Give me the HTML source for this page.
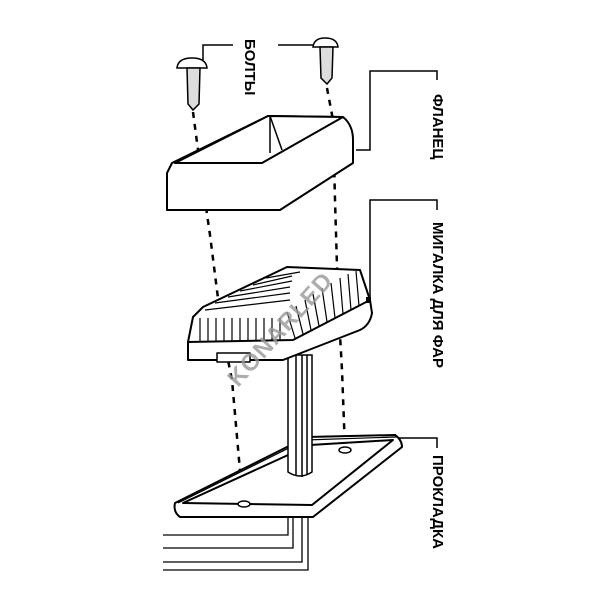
<!DOCTYPE html>
<html><head><meta charset="utf-8"><style>html,body{margin:0;padding:0;background:#fff}svg{display:block}</style></head>
<body>
<svg width="600" height="600" viewBox="0 0 600 600" xmlns="http://www.w3.org/2000/svg" font-family="Liberation Sans, DejaVu Sans, sans-serif">
<g fill="none" stroke="#000" stroke-width="1.5">
<polyline points="203,62 203,45 233,45"/>
<polyline points="278,45 313,45"/>
<polyline points="356,150 370,150 370,71 437,71 437,80"/>
<polyline points="370,300 370,200 437,200 437,210"/>
<polyline points="398,438 437,438 437,448"/>
<polyline points="193,112 200,165 210,235 222,330 232,380 243,505" stroke-dasharray="6,6" stroke-width="2.5"/>
<polyline points="327,88 333,120 335,200 338,300 342,370 345,450" stroke-dasharray="6,6" stroke-width="2.5"/>
</g>
<g stroke="#000" stroke-width="1.5">
<path d="M177,68 Q178,58 192,58 Q206,58 207,68 Z" fill="#fff"/>
<path d="M187,68 L200,68 L199,104 L193,110 L188,104 Z" fill="#ddd"/>
<path d="M313,47 Q314,38 325,38 Q337,38 338,47 Z" fill="#fff"/>
<path d="M320,47 L333,47 L332,78 L327,84 L321,78 Z" fill="#ddd"/>
</g>
<g stroke="#000" stroke-width="2" fill="#fff" stroke-linejoin="round">
<path d="M172,163 L268,116 L343,117 Q353,125 353,140 L353,163 L280,210 L167,210 L167,173 Z"/>
<path d="M175,163 L262,163 L343,117 L268,116 Z" fill="#fff"/>
<line x1="270" y1="116" x2="282" y2="150" stroke-width="1.5"/>
<line x1="270" y1="116" x2="270" y2="153" stroke-width="1.5"/>
</g>
<!-- gasket outer -->
<g stroke="#000" stroke-width="2" fill="#fff" stroke-linejoin="round">
<path d="M175,503 L307,437 L395,435 Q402,440 402,447 L313,517 L180,517 Q173,512 175,503 Z"/>
<path d="M183,503 L310,445 L393,440 L312,505 Z"/>
<path d="M178,503 L305,440 L396,437" stroke-width="1.2" fill="none"/>
<ellipse cx="244" cy="504" rx="6" ry="3" stroke-width="1.5"/>
<ellipse cx="345" cy="450" rx="6" ry="3" stroke-width="1.5"/>
</g>
<!-- pole -->
<g stroke="#000" stroke-width="1.5" fill="#fff">
<path d="M288,355 L288,472 Q300,480 312,472 L312,355 Z"/>
<line x1="296" y1="355" x2="296" y2="476"/><line x1="302" y1="355" x2="302" y2="477"/><line x1="307" y1="355" x2="307" y2="475"/>
</g>
<g stroke="#000" stroke-width="2" fill="#fff" stroke-linejoin="round">
<path d="M188,342 L370,300 L372,313 Q370,325 360,330 L283,360 L188,360 Z"/>
<path d="M193,317 L203,307 L287,267 L360,270 L370,300 L293,340 L188,342 Z"/>
<rect x="217" y="353" width="33" height="9" fill="#fff" stroke-width="1.5"/>
</g>
<g stroke="#000" stroke-width="1.2">
<line x1="200" y1="318" x2="200" y2="341"/><line x1="208" y1="318" x2="208" y2="341"/><line x1="216" y1="318" x2="216" y2="341"/><line x1="224" y1="318" x2="224" y2="341"/><line x1="232" y1="318" x2="232" y2="341"/><line x1="240" y1="318" x2="240" y2="341"/><line x1="248" y1="318" x2="248" y2="341"/><line x1="256" y1="318" x2="256" y2="341"/><line x1="264" y1="318" x2="264" y2="341"/><line x1="272" y1="318" x2="272" y2="341"/><line x1="280" y1="318" x2="280" y2="341"/>
<line x1="295" y1="338" x2="287" y2="312"/><line x1="303" y1="334" x2="296" y2="306"/><line x1="311" y1="330" x2="305" y2="300"/><line x1="319" y1="326" x2="313" y2="294"/><line x1="327" y1="322" x2="322" y2="288"/><line x1="335" y1="318" x2="331" y2="283"/><line x1="343" y1="314" x2="340" y2="278"/><line x1="351" y1="310" x2="348" y2="274"/><line x1="359" y1="306" x2="356" y2="271"/>
<line x1="205" y1="310" x2="290" y2="300"/><line x1="215" y1="303" x2="290" y2="293"/><line x1="228" y1="297" x2="290" y2="287"/><line x1="240" y1="291" x2="292" y2="281"/><line x1="253" y1="285" x2="292" y2="276"/><line x1="266" y1="278" x2="300" y2="272"/>
</g>
<rect x="366" y="297" width="5" height="6" fill="#000"/>
<g fill="none" stroke="#000" stroke-width="1.3">
<polyline points="288,517 288,535 163,535"/>
<polyline points="293,517 293,548 163,548"/>
<polyline points="302,517 302,562 163,562"/>
<polyline points="308,517 308,570 163,570"/>
</g>
<text x="0" y="0" transform="translate(238,388) rotate(-48)" font-size="24" font-weight="bold" fill="#999" opacity="0.8" letter-spacing="1">KONARLED</text>
<g font-size="15" font-weight="bold" fill="#000">
<text transform="translate(245,39) rotate(90)">БОЛТЫ</text>
<text transform="translate(433,94) rotate(90)">ФЛАНЕЦ</text>
<text transform="translate(433,222) rotate(90)">МИГАЛКА ДЛЯ ФАР</text>
<text transform="translate(433,455) rotate(90)">ПРОКЛАДКА</text>
</g>
</svg>
</body></html>
